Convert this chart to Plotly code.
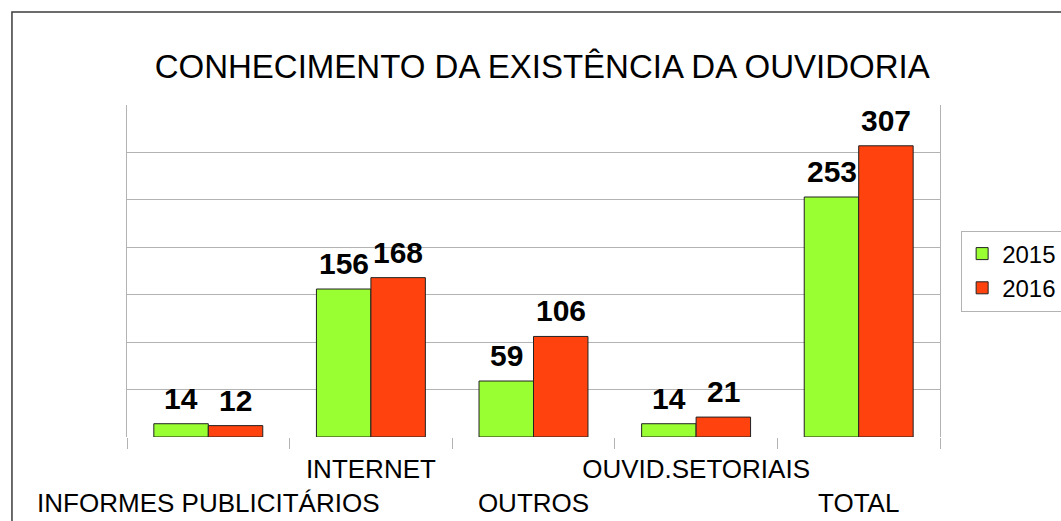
import plotly.graph_objects as go

categorias = ['INFORMES PUBLICITÁRIOS', 'INTERNET', 'OUTROS', 'OUVID.SETORIAIS', 'TOTAL']
rotulos = ['<br>INFORMES PUBLICITÁRIOS', 'INTERNET', '<br>OUTROS', 'OUVID.SETORIAIS', '<br>TOTAL']
valores_2015 = [14, 156, 59, 14, 253]
valores_2016 = [12, 168, 106, 21, 307]

FONTE = 'Liberation Sans'
VERDE = '#99ff33'
VERMELHO = '#ff420e'
CINZA = '#b3b3b3'

fig = go.Figure()
fig.add_trace(go.Bar(x=categorias, y=valores_2015, name='2015',
                     marker=dict(color=VERDE, line=dict(color='#222222', width=1))))
fig.add_trace(go.Bar(x=categorias, y=valores_2016, name='2016',
                     marker=dict(color=VERMELHO, line=dict(color='#222222', width=1))))

# rótulos dos valores acima das barras
anotacoes = []
for valores, desl in [(valores_2015, -27), (valores_2016, 27)]:
    for cat, v in zip(categorias, valores):
        anotacoes.append(dict(x=cat, y=v, xref='x', yref='y', text=str(v),
                              showarrow=False, xshift=desl, yshift=7, yanchor='bottom',
                              font=dict(family=FONTE, size=30, color='black', weight='bold')))

# moldura externa do gráfico
fig.add_shape(type='rect', xref='paper', yref='paper',
              x0=-0.1415, x1=1.2, y0=-0.3, y1=1.2801,
              line=dict(color='#3c3c3c', width=1.5), fillcolor='rgba(0,0,0,0)', layer='below')

fig.update_layout(
    width=1061, height=521, autosize=False,
    margin=dict(l=127, r=121, t=105, b=84, autoexpand=False),
    paper_bgcolor='white', plot_bgcolor='white',
    font=dict(family=FONTE, color='black'),
    title=dict(text='CONHECIMENTO DA EXISTÊNCIA DA OUVIDORIA', x=0.511, xanchor='center',
               y=1 - 66 / 521, yanchor='middle', yref='container',
               font=dict(family=FONTE, size=33, color='black')),
    barmode='group', bargap=0.33, bargroupgap=0,
    showlegend=True,
    legend=dict(x=1.026, xanchor='left', y=0.5, yanchor='middle',
                bordercolor=CINZA, borderwidth=1, font=dict(family=FONTE, size=24),
                itemwidth=30, tracegroupgap=4),
    annotations=anotacoes,
    xaxis=dict(categoryorder='array', categoryarray=categorias,
               tickvals=categorias, ticktext=rotulos, tickangle=0,
               tickfont=dict(family=FONTE, size=26), ticklabelstandoff=14,
               tickson='boundaries', ticks='outside', ticklen=11, tickcolor=CINZA,
               showgrid=False, showline=False, zeroline=False, automargin=False),
    yaxis=dict(range=[0, 350], dtick=50, showticklabels=False, ticks='',
               showgrid=True, gridcolor=CINZA, gridwidth=1, automargin=False,
               showline=True, linecolor=CINZA, mirror=True, zeroline=False),
)

fig.write_html('out.html', config={'displayModeBar': False},
               post_script="document.body.style.margin='0';")
